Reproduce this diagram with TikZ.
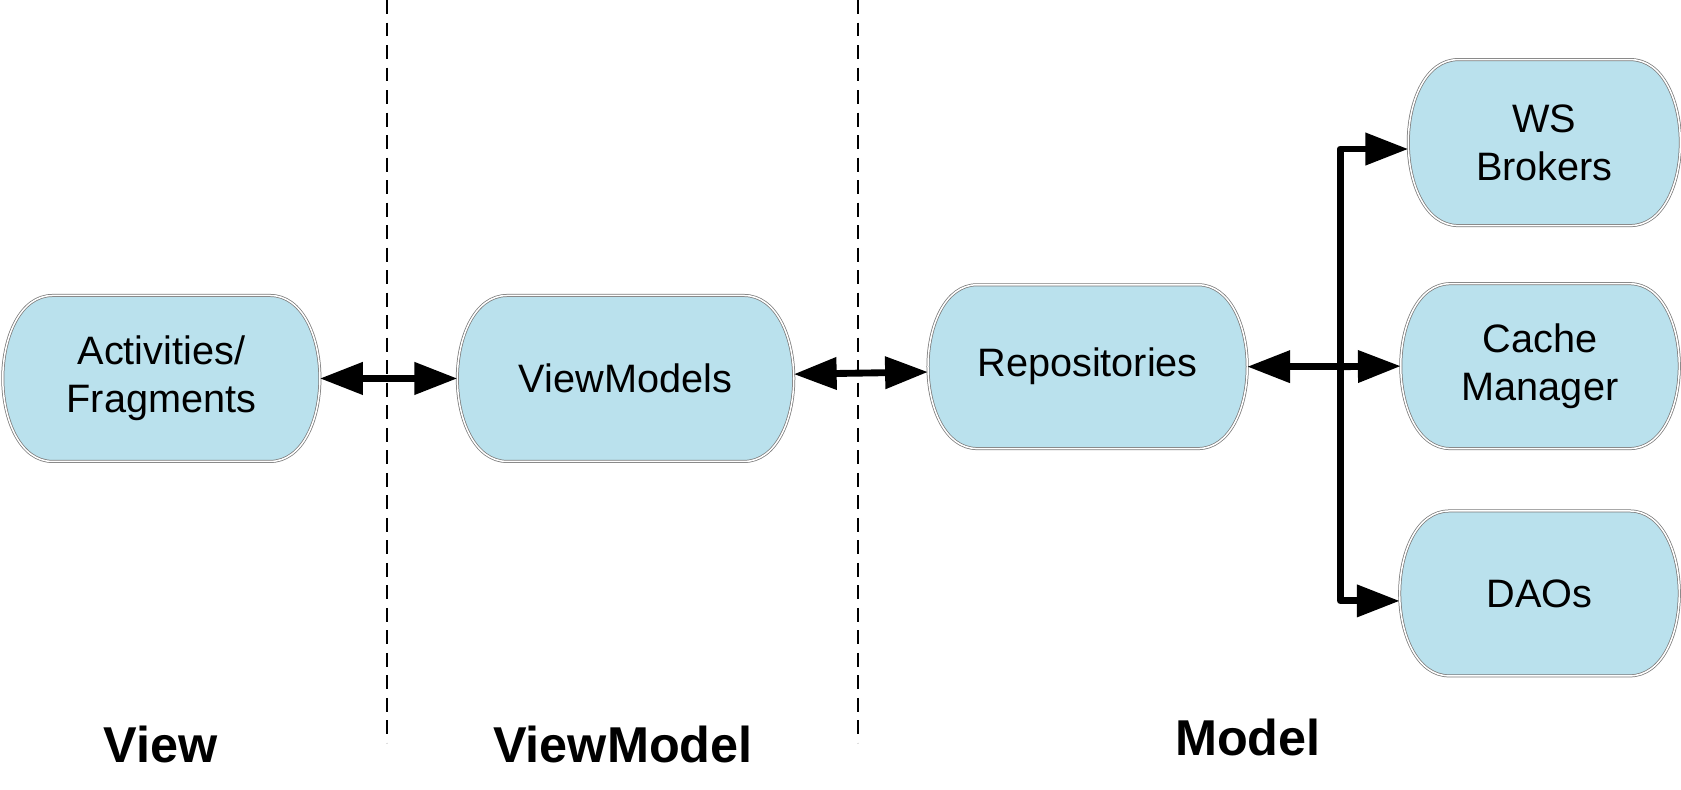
\documentclass[tikz,border=0pt]{standalone}
\usepackage{fontspec}
\setmainfont{Liberation Sans}
\usetikzlibrary{arrows.meta,calc,backgrounds}
\definecolor{pillblue}{HTML}{BAE1ED}
\definecolor{pilledge}{HTML}{7A7A7A}
\tikzset{
  bigtip/.tip={Triangle[length=20pt,width=14.5pt]},
  pill/.style={inner sep=0pt, align=center, text=black,
    font=\fontsize{18.5}{22.5}\selectfont},
  pillline/.style={fill=pillblue, draw=pilledge, double=white,
    double distance=0.7pt, line width=0.35pt},
  conn/.style={line width=3.2pt, line join=round},
  sepline/.style={line width=1pt, dash pattern=on 6.5pt off 4pt},
  layer/.style={font=\bfseries\fontsize{23.5}{28}\selectfont, anchor=base}
}
\newcommand\pilloutline[1]{%
  \path[pillline] let \p1=(#1.north west), \p2=(#1.south east),
    \n1={0.3*(\y1-\y2)}, \n2={0.5*(\y1-\y2)} in
   (\x1+\n1,\y1) -- (\x2-\n1,\y1)
   .. controls (\x2-0.35*\n1,\y1) and (\x2,\y1-0.5*\n2) .. (\x2,\y1-\n2)
   .. controls (\x2,\y2+0.5*\n2) and (\x2-0.35*\n1,\y2) .. (\x2-\n1,\y2)
   -- (\x1+\n1,\y2)
   .. controls (\x1+0.35*\n1,\y2) and (\x1,\y2+0.5*\n2) .. (\x1,\y2+\n2)
   .. controls (\x1,\y1-0.5*\n2) and (\x1+0.35*\n1,\y1) .. cycle;}
\begin{document}
\begin{tikzpicture}[x=0.5pt,y=-0.5pt]
\useasboundingbox (0,0) rectangle (1568,736);

% separators
\coordinate (s1t) at (361,0);  \coordinate (s1b) at (361,693);
\coordinate (s2t) at (800,0);  \coordinate (s2b) at (800,693);
\draw[sepline] (s1t) -- (s1b);
\draw[sepline] (s2t) -- (s2b);

% nodes
\node[pill, minimum width=147.5pt, minimum height=77pt] (act) at (150.5,353) {Activities/\\Fragments};
\node[pill, minimum width=156.5pt, minimum height=77pt] (vm) at (583.5,353) {ViewModels};
\node[pill, minimum width=148.5pt, minimum height=76pt] (repo) at (1014.5,342) {Repositories};
\node[pill, minimum width=126.5pt, minimum height=77pt] (ws) at (1440.5,133) {WS\\Brokers};
\node[pill, minimum width=129.5pt, minimum height=76.5pt] (cache) at (1436.5,341.5) {Cache\\Manager};
\node[pill, minimum width=130pt, minimum height=76.5pt] (dao) at (1436,553.5) {DAOs};

\begin{scope}[on background layer]
  \pilloutline{act}
  \pilloutline{vm}
  \pilloutline{repo}
  \pilloutline{ws}
  \pilloutline{cache}
  \pilloutline{dao}
\end{scope}

% connectors
\draw[conn, bigtip-bigtip] (act.east) -- (vm.west);
\draw[conn, bigtip-bigtip] ([yshift=2pt]vm.east) -- ([yshift=-2.5pt]repo.west);
\coordinate (j) at (1250,342);
\draw[conn, bigtip-] (repo.east) -- (j);
\draw[conn, -bigtip] (j) -- (cache.west);
\draw[conn, -bigtip] (j) |- ([yshift=-3pt]ws.west);
\draw[conn, -bigtip] (j) |- ([yshift=-3.5pt]dao.west);

% layer labels
\node[layer] (lview) at (150,711) {View};
\node[layer] (lvm) at (581,711) {ViewModel};
\node[layer] (lmodel) at (1164,705) {Model};
\end{tikzpicture}
\end{document}
